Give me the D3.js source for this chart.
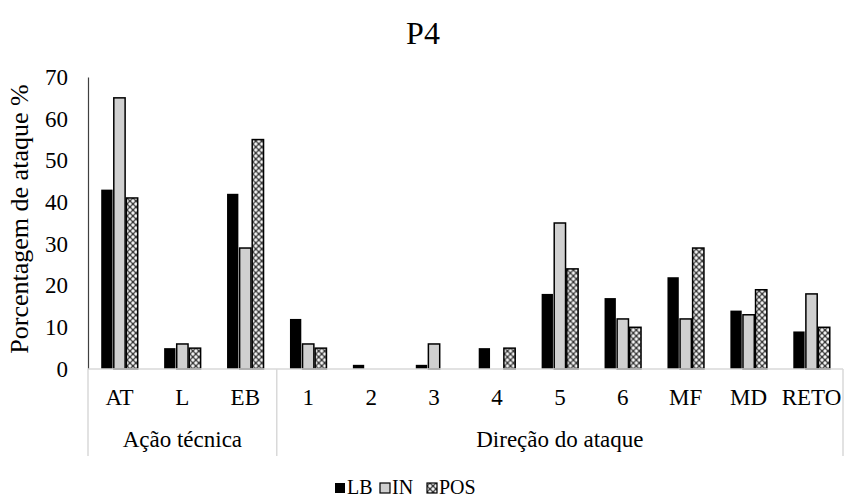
<!DOCTYPE html>
<html>
<head>
<meta charset="utf-8">
<script src="https://cdn.jsdelivr.net/npm/d3@7"></script>
<style>
  html, body { margin: 0; padding: 0; background: #fff; }
  svg { display: block; font-family: "Liberation Serif", "Times New Roman", serif; }
</style>
</head>
<body>
<svg id="chart" width="845" height="503"></svg>
<script>
// Percentages of attacks by technical action and attack direction (P4)
const categories = ["AT", "L", "EB", "1", "2", "3", "4", "5", "6", "MF", "MD", "RETO"];
const groups = [
  { label: "Ação técnica", from: "AT", to: "EB" },
  { label: "Direção do ataque", from: "1", to: "RETO" }
];
const seriesNames = ["LB", "IN", "POS"];
const valuesLB  = [43, 5, 42, 12, 1, 1, 5, 18, 17, 22, 14, 9];
const valuesIN  = [65, 6, 29, 6, 0, 6, 0, 35, 12, 12, 13, 18];
const valuesPOS = [41, 5, 55, 5, 0, 0, 5, 24, 10, 29, 19, 10];
const yTicks = [0, 10, 20, 30, 40, 50, 60, 70];

const seriesValues = { LB: valuesLB, IN: valuesIN, POS: valuesPOS };

const svg = d3.select("#chart");
const plotLeft = 88, plotRight = 843, plotTop = 77, plotBottom = 369;

// Dotted fill for the POS series
const defs = svg.append("defs");
const pat = defs.append("pattern")
  .attr("id", "posPattern")
  .attr("patternUnits", "userSpaceOnUse")
  .attr("width", 6).attr("height", 6);
pat.append("rect").attr("width", 6).attr("height", 6).attr("fill", "#3a3a3a");
[[0, 0], [6, 0], [0, 6], [6, 6], [3, 3]].forEach(([cx, cy]) => {
  pat.append("circle").attr("cx", cx).attr("cy", cy).attr("r", 1.7).attr("fill", "#f2f2f2");
});

const styles = {
  LB:  { fill: "#000000", stroke: "#000000" },
  IN:  { fill: "#d0d0d0", stroke: "#000000" },
  POS: { fill: "url(#posPattern)", stroke: "#000000" }
};

const x0 = d3.scaleBand().domain(categories).range([plotLeft, plotRight]).paddingInner(0.38).paddingOuter(0.19);
const x1 = d3.scaleBand().domain(seriesNames).range([0, x0.bandwidth()]).padding(0.1);
const y = d3.scaleLinear().domain([0, 70]).range([plotBottom, plotTop]);

// Title
svg.append("text")
  .attr("x", 423).attr("y", 44)
  .attr("text-anchor", "middle")
  .attr("font-size", 32)
  .attr("fill", "#000")
  .text("P4");

// Y axis
const yAxis = d3.axisLeft(y).tickValues(yTicks).tickSize(0).tickPadding(20);
const yg = svg.append("g").attr("transform", `translate(${plotLeft},0)`).call(yAxis);
yg.select(".domain").attr("stroke", "#404040").attr("stroke-width", 1.2);
yg.selectAll(".tick text")
  .attr("font-family", "Liberation Serif, serif")
  .attr("font-size", 23)
  .attr("fill", "#000");

svg.append("text")
  .attr("transform", `translate(28,${(plotTop + plotBottom) / 2 - 4}) rotate(-90)`)
  .attr("text-anchor", "middle")
  .attr("font-size", 26)
  .attr("fill", "#000")
  .text("Porcentagem de ataque %");

// Bars
const catGroups = svg.append("g").selectAll("g")
  .data(categories)
  .join("g")
  .attr("transform", d => `translate(${x0(d)},0)`);

catGroups.selectAll("rect")
  .data((c, i) => seriesNames.map(s => ({ s, v: seriesValues[s][i] })).filter(d => d.v > 0))
  .join("rect")
  .attr("x", d => x1(d.s))
  .attr("y", d => y(d.v))
  .attr("width", x1.bandwidth())
  .attr("height", d => y(0) - y(d.v))
  .attr("fill", d => styles[d.s].fill)
  .attr("stroke", d => styles[d.s].stroke)
  .attr("stroke-width", d => d.s === "LB" ? 0 : 1.5);

// Category axis with a second row of group labels
const axisColor = "#d9d9d9";
const lowerEdge = 456;
svg.append("line")
  .attr("x1", plotLeft).attr("x2", plotRight)
  .attr("y1", plotBottom).attr("y2", plotBottom)
  .attr("stroke", axisColor).attr("stroke-width", 1.5);

const step = x0.step();
const groupEdges = [plotLeft];
groups.forEach(g => {
  groupEdges.push(Math.min(plotRight, x0(g.to) + x0.bandwidth() + (step - x0.bandwidth()) / 2));
});
groupEdges.forEach(xe => {
  svg.append("line")
    .attr("x1", xe).attr("x2", xe)
    .attr("y1", plotBottom).attr("y2", lowerEdge)
    .attr("stroke", axisColor).attr("stroke-width", 1.5);
});

svg.append("g").selectAll("text")
  .data(categories)
  .join("text")
  .attr("x", d => x0(d) + x0.bandwidth() / 2)
  .attr("y", 405)
  .attr("text-anchor", "middle")
  .attr("font-size", 23)
  .attr("fill", "#000")
  .text(d => d);

svg.append("g").selectAll("text")
  .data(groups)
  .join("text")
  .attr("x", (g, i) => (groupEdges[i] + groupEdges[i + 1]) / 2)
  .attr("y", 447)
  .attr("text-anchor", "middle")
  .attr("font-size", 23)
  .attr("fill", "#000")
  .text(g => g.label);

// Legend
const legendItems = [
  { s: "LB", x: 335 },
  { s: "IN", x: 380 },
  { s: "POS", x: 427 }
];
const lg = svg.append("g").selectAll("g")
  .data(legendItems)
  .join("g")
  .attr("transform", d => `translate(${d.x},483)`);
lg.append("rect")
  .attr("width", 10).attr("height", 10)
  .attr("fill", d => styles[d.s].fill)
  .attr("stroke", "#000")
  .attr("stroke-width", d => d.s === "LB" ? 0 : 1.2);
lg.append("text")
  .attr("x", 12).attr("y", 10.5)
  .attr("font-size", 20)
  .attr("fill", "#000")
  .text(d => d.s);
</script>
</body>
</html>
